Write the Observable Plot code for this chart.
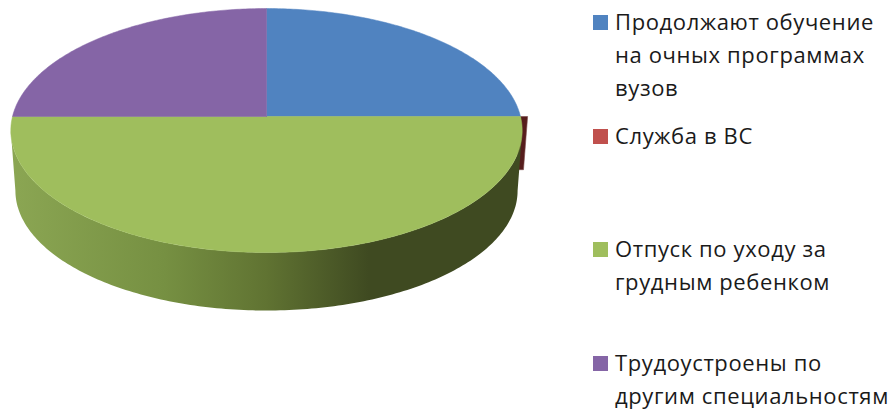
<!DOCTYPE html>
<html lang="ru">
<head>
<meta charset="utf-8">
<script src="https://cdn.jsdelivr.net/npm/d3@7"></script>
<script src="https://cdn.jsdelivr.net/npm/@observablehq/plot@0.6"></script>
<style>
html,body{margin:0;padding:0;background:#fff}
#chart{position:relative;width:894px;height:411px;overflow:hidden}
#chart svg{display:block;position:absolute;left:0;top:0}
.item{position:absolute;left:593px;font:22px/33px "Open Sans",sans-serif;color:#1a1a1a;white-space:pre;padding-left:22px;letter-spacing:.62px}
.item i{position:absolute;left:0;width:14.5px;height:14.5px}
</style>
</head>
<body>
<div id="chart"></div>
<script>
// Chart values
const categories = ["Продолжают обучение\nна очных программах\nвузов", "Служба в ВС", "Отпуск по уходу за\nгрудным ребенком", "Трудоустроены по\nдругим специальностям"];
const shares = [25, 0, 50, 25];
const colors = ["#5083c0", "#c0504d", "#9fbe5d", "#8565a6"];
const legendTops = [5, 119, 232, 346];

// 3D pie geometry derived from the shares
const perspective = 0.115, depth = 0.502, shrink = 0.018;
const project = (deg, r = 1, z = 0) => {
  const a = deg * Math.PI / 180, u = r * Math.sin(a), v = r * Math.cos(a), w = 1 + perspective * v, s = 1 - shrink * z;
  return {x: s * u / w, y: s * v / w - depth * z};
};
const total = d3.sum(shares);
let acc = 0;
const slices = shares.map((value, i) => {
  const start = acc / total * 360; acc += value;
  return {i, start, end: acc / total * 360};
});
const wedge = (s) => [
  {x: 0, y: 0},
  ...d3.range(0, 121).map((k) => project(s.start + (s.end - s.start) * k / 120)),
  {x: 0, y: 0}
];
const red = slices[1];
// the side wall runs between the two points where the rim turns vertical
const tangent = Math.acos(-perspective) * 180 / Math.PI;
const rimAngles = d3.range(0, 181).map((k) => tangent + (360 - 2 * tangent) * k / 180);
const sidePoly = [
  ...rimAngles.map((d) => project(d, 1, 0)),
  ...rimAngles.slice().reverse().map((d) => project(d, 1, 1))
];
const zeroFace = [
  project(red.start, 1, 0), project(red.start, 1.028, 0),
  project(red.start, 1.028, 0.88), project(red.start, 1, 0.88)
];
const gradientStops = [[0, "#8ba653"], [0.3, "#769042"], [0.5, "#607332"], [0.7, "#3f4a21"], [1, "#3f4a21"]];

const plot = Plot.plot({
  width: 894, height: 411, margin: 0,
  x: {axis: null, domain: [-1, 1], range: [12, 520]},
  y: {axis: null, domain: [-1, 1], range: [236.4, -4.4]},
  marks: [
    () => {
      const defs = d3.create("svg:defs");
      const g = defs.append("linearGradient").attr("id", "sideShade");
      gradientStops.forEach(([o, c]) => g.append("stop").attr("offset", o).attr("stop-color", c));
      return defs.node();
    },
    Plot.line(zeroFace.concat(zeroFace[0]), {x: "x", y: "y", fill: "#561d1c", stroke: "#7a4a4a", strokeWidth: 0.6, curve: "linear"}),
    Plot.line(sidePoly.concat(sidePoly[0]), {x: "x", y: "y", fill: "url(#sideShade)", stroke: "none", curve: "linear"}),
    ...slices.filter((s) => s.end > s.start).map((s) =>
      Plot.line(wedge(s), {x: "x", y: "y", fill: colors[s.i], stroke: colors[s.i], strokeWidth: 0.5, curve: "linear"})
    )
  ]
});
const root = document.getElementById("chart");
root.append(plot);
categories.forEach((name, i) => {
  const item = document.createElement("div");
  item.className = "item";
  item.style.top = legendTops[i] + "px";
  item.textContent = name;
  const sw = document.createElement("i");
  sw.style.background = colors[i];
  sw.style.top = "10px";
  item.prepend(sw);
  root.append(item);
});
</script>
</body>
</html>
